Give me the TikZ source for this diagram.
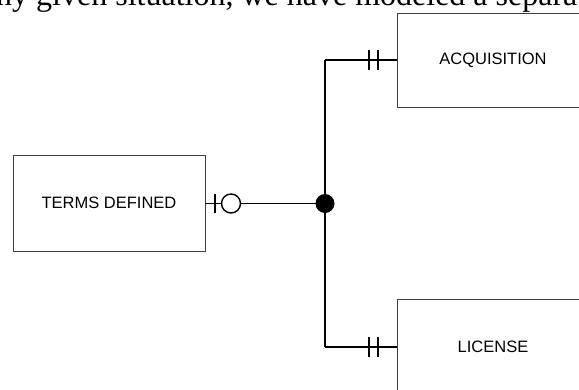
\documentclass[tikz,border=0pt]{standalone}
\usepackage{fontspec}
\setmainfont{Liberation Serif}
\newfontfamily\boxfont{Liberation Sans}
\begin{document}
\begin{tikzpicture}[x=1pt,y=-1pt,
  entity/.style={draw=black!75,line width=0.8pt,fill=white,inner sep=0pt,
    minimum width=192pt,minimum height=96pt,font=\boxfont\fontsize{16.5}{18}\selectfont},
  conn/.style={line width=1.4pt,draw=black},
  tick/.style={line width=1.4pt}]
\useasboundingbox (0,0) rectangle (579,389);
\clip (0,0) rectangle (579,389);
\node[anchor=base west,inner sep=0pt,font=\fontsize{32}{36}\selectfont] (caption) at (-4,5) {ny given situation, we have modeled a separate};
\node[entity] (terms) at (109,203) {TERMS DEFINED};
\node[entity,minimum height=94pt] (acq) at (493,60) {ACQUISITION};
\node[entity] (lic) at (493,347) {LICENSE};
\coordinate (j) at (325,203.5);
\coordinate (jt) at (325,60);
\coordinate (jb) at (325,347);
% connectors
\draw[conn] (jt) -- (acq.west);
\draw[conn] (jt) -- (jb);
\draw[conn] (jb) -- (lic.west);
\draw[conn] (terms.east |- j) -- (j);
% acquisition ticks
\draw[tick] (369,50) -- (369,70) (378,50) -- (378,70);
% license ticks
\draw[tick] (369,337) -- (369,357) (378,337) -- (378,357);
% terms: one tick and zero
\draw[tick] (215,194) -- (215,213);
\node[circle,draw,line width=1.4pt,fill=white,minimum size=19pt,inner sep=0pt] (zero) at (231,203.5) {};
\node[circle,fill=black,minimum size=19pt,inner sep=0pt] (dot) at (j) {};
\end{tikzpicture}
\end{document}
